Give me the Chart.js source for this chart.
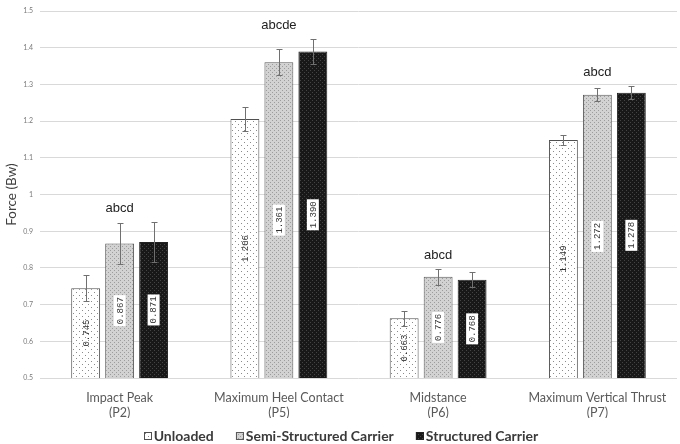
<!DOCTYPE html>
<html>
<head>
<meta charset="utf-8">
<script src="https://cdn.jsdelivr.net/npm/chart.js@4.4.0/dist/chart.umd.min.js"></script>
<style>
  html, body { margin: 0; padding: 0; background: #fff; }
</style>
</head>
<body>
<canvas id="forcechart" width="680" height="444"></canvas>
<script>
  // values
  const categories = [['Impact Peak', '(P2)'], ['Maximum Heel Contact', '(P5)'], ['Midstance', '(P6)'], ['Maximum Vertical Thrust', '(P7)']];
  const seriesNames = ['Unloaded', 'Semi-Structured Carrier', 'Structured Carrier'];
  const unloaded = [0.745, 1.206, 0.663, 1.149];
  const semiStructured = [0.867, 1.361, 0.776, 1.272];
  const structured = [0.871, 1.390, 0.768, 1.278];
  const errUnloaded = [0.035, 0.032, 0.021, 0.013];
  const errSemi = [0.055, 0.036, 0.022, 0.018];
  const errStructured = [0.054, 0.033, 0.020, 0.017];
  const sigLabels = ['abcd', 'abcde', 'abcd', 'abcd'];
  const yTickLabels = ['0.5', '0.6', '0.7', '0.8', '0.9', '1', '1.1', '1.2', '1.3', '1.4', '1.5'];

  const canvas = document.getElementById('forcechart');
  const ctx0 = canvas.getContext('2d');

  function makePattern(bg, dot, size, dots) {
    const c = document.createElement('canvas');
    c.width = size; c.height = size;
    const g = c.getContext('2d');
    g.fillStyle = bg;
    g.fillRect(0, 0, size, size);
    g.fillStyle = dot;
    dots.forEach(d => g.fillRect(d[0], d[1], 1, 1));
    return ctx0.createPattern(c, 'repeat');
  }

  const fillUnloaded = makePattern('#ffffff', '#8a8a8a', 6, [[1, 1], [4, 4]]);
  const fillSemi = makePattern('#d2d2d2', '#9c9c9c', 4, [[0, 0], [2, 2]]);
  const fillStructured = makePattern('#181818', '#444444', 4, [[0, 0], [2, 2]]);
  const fills = [fillUnloaded, fillSemi, fillStructured];
  const borders = ['#505050', '#5a5a5a', '#222222'];

  const extras = {
    id: 'extras',
    afterDatasetsDraw(chart) {
      const ctx = chart.ctx;
      const y = chart.scales.y;
      const baseY = y.getPixelForValue(0.5);
      const errs = [errUnloaded, errSemi, errStructured];
      const tops = [];

      // error bars
      ctx.save();
      ctx.strokeStyle = '#707070';
      ctx.lineWidth = 1;
      chart.data.datasets.forEach((ds, di) => {
        chart.getDatasetMeta(di).data.forEach((bar, i) => {
          const v = ds.data[i], e = errs[di][i];
          const t = Math.round(y.getPixelForValue(v + e)) + 0.5;
          const b = Math.round(y.getPixelForValue(v - e)) + 0.5;
          const x = Math.round(bar.x) + 0.5;
          ctx.beginPath();
          ctx.moveTo(x, t); ctx.lineTo(x, b);
          ctx.moveTo(x - 3, t); ctx.lineTo(x + 3, t);
          ctx.moveTo(x - 3, b); ctx.lineTo(x + 3, b);
          ctx.stroke();
          tops[i] = Math.min(tops[i] === undefined ? 9999 : tops[i], t);
        });
      });
      ctx.restore();

      // value labels inside bars
      chart.data.datasets.forEach((ds, di) => {
        chart.getDatasetMeta(di).data.forEach((bar, i) => {
          const txt = ds.data[i].toFixed(3);
          const cy = (bar.y + baseY) / 2;
          ctx.save();
          ctx.translate(bar.x, cy);
          ctx.rotate(-Math.PI / 2);
          ctx.font = '9px "Liberation Mono"';
          const w = ctx.measureText(txt).width;
          if (di > 0) {
            ctx.fillStyle = '#ffffff';
            ctx.fillRect(-w / 2 - 2, -6, w + 4, 12);
          }
          ctx.fillStyle = '#333333';
          ctx.textAlign = 'center';
          ctx.textBaseline = 'middle';
          ctx.fillText(txt, 0, 0.5);
          ctx.restore();
        });
      });

      // significance letters
      const mid = chart.getDatasetMeta(1).data;
      ctx.save();
      ctx.font = '13px "Liberation Sans"';
      ctx.fillStyle = '#222222';
      ctx.textAlign = 'center';
      ctx.textBaseline = 'middle';
      sigLabels.forEach((s, i) => {
        ctx.fillText(s, mid[i].x, tops[i] - 14);
      });
      ctx.restore();

      // legend
      ctx.save();
      ctx.font = 'bold 14px Lato';
      ctx.textBaseline = 'middle';
      const box = 8, gapBox = 2, gapItem = 22;
      const widths = seriesNames.map(n => box + gapBox + ctx.measureText(n).width);
      const total = widths.reduce((a, b) => a + b, 0) + gapItem * (widths.length - 1);
      let lx = 341 - total / 2;
      const ly = 436;
      seriesNames.forEach((n, i) => {
        ctx.fillStyle = fills[i];
        ctx.fillRect(lx, ly - box / 2, box, box);
        ctx.strokeStyle = borders[i];
        ctx.lineWidth = 1;
        ctx.strokeRect(Math.round(lx) + 0.5, Math.round(ly - box / 2) + 0.5, box - 1, box - 1);
        ctx.fillStyle = '#3a3a3a';
        ctx.fillText(n, lx + box + gapBox, ly + 0.5);
        lx += widths[i] + gapItem;
      });
      ctx.restore();
    }
  };

  new Chart(canvas, {
    type: 'bar',
    data: {
      labels: categories,
      datasets: [
        { label: seriesNames[0], data: unloaded, backgroundColor: fillUnloaded, borderColor: borders[0], borderWidth: 1 },
        { label: seriesNames[1], data: semiStructured, backgroundColor: fillSemi, borderColor: borders[1], borderWidth: 1 },
        { label: seriesNames[2], data: structured, backgroundColor: fillStructured, borderColor: borders[2], borderWidth: 1 }
      ]
    },
    options: {
      responsive: false,
      animation: false,
      devicePixelRatio: 1,
      categoryPercentage: 0.64,
      barPercentage: 0.85,
      layout: { padding: { top: 7, right: 3, bottom: 26, left: 0 } },
      plugins: {
        legend: { display: false },
        tooltip: { enabled: false }
      },
      scales: {
        x: {
          grid: { display: false, drawTicks: false },
          border: { display: false },
          ticks: {
            padding: 12,
            color: '#5a5a5a',
            font: { family: 'Lato', size: 12.5, lineHeight: 1.25 },
            maxRotation: 0
          },
          afterFit(scale) { scale.height = 40; }
        },
        y: {
          min: 0.5,
          max: 1.5,
          grid: { color: '#d9d9d9', drawTicks: false },
          border: { display: false },
          ticks: {
            stepSize: 0.1,
            padding: 7,
            color: '#7a7a7a',
            font: { family: 'Lato', size: 7 },
            callback: (v, i) => yTickLabels[i]
          },
          title: {
            display: true,
            text: 'Force (Bw)',
            color: '#404040',
            font: { family: 'Lato', size: 13.5 },
            padding: { top: 4, bottom: 0 }
          },
          afterFit(scale) { scale.width = 40; }
        }
      }
    },
    plugins: [extras]
  });
</script>
</body>
</html>
